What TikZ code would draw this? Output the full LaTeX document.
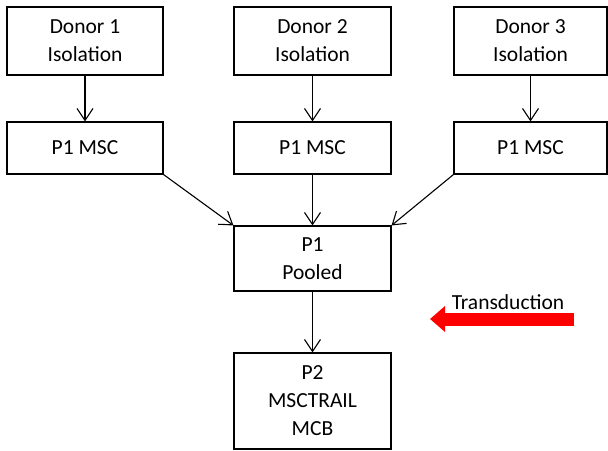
\documentclass[tikz,border=0pt]{standalone}
\usepackage{fontspec}
\setmainfont{Carlito}
\usetikzlibrary{arrows.meta}
\tikzset{
  stage/.style={draw,line width=1.1pt,align=center,inner sep=0pt,
    font=\fontsize{21.5}{28}\selectfont},
  flow/.style={line width=1.1pt,-{Straight Barb[length=12pt,width=16pt]}}
}
\begin{document}
\begin{tikzpicture}[x=1pt,y=-1pt]
\useasboundingbox (0,0) rectangle (608,450);

\node[stage,minimum width=156,minimum height=68] (donor1) at (85,41) {Donor 1\\Isolation};
\node[stage,minimum width=157,minimum height=68] (donor2) at (312.5,41) {Donor 2\\Isolation};
\node[stage,minimum width=153,minimum height=68] (donor3) at (530.5,41) {Donor 3\\Isolation};

\node[stage,minimum width=156,minimum height=52] (msc1) at (85,148) {P1 MSC};
\node[stage,minimum width=157,minimum height=52] (msc2) at (312.5,148) {P1 MSC};
\node[stage,minimum width=153,minimum height=52] (msc3) at (530.5,148) {P1 MSC};

\node[stage,minimum width=157,minimum height=65] (pooled) at (312.5,258.5) {P1\\Pooled};
\node[stage,minimum width=157,minimum height=96] (mcb) at (312.5,401) {P2\\MSCTRAIL\\MCB};

\draw[flow] (donor1) -- (msc1);
\draw[flow] (donor2) -- (msc2);
\draw[flow] (donor3) -- (msc3);

\draw[flow] (msc1.south east) -- (pooled.north west);
\draw[flow] (msc2) -- (pooled);
\draw[flow] (msc3.south west) -- (pooled.north east);
\draw[flow] (pooled) -- (mcb);

% transduction arrow
\node[font=\fontsize{21.5}{24}\selectfont] (trans) at (508,302) {Transduction};
\coordinate (tstart) at (574,319);
\coordinate (tend) at (430,319);
\draw[red,line width=13pt,-{Triangle[length=15pt,width=25pt]}] (tstart) -- (tend);
\end{tikzpicture}
\end{document}
